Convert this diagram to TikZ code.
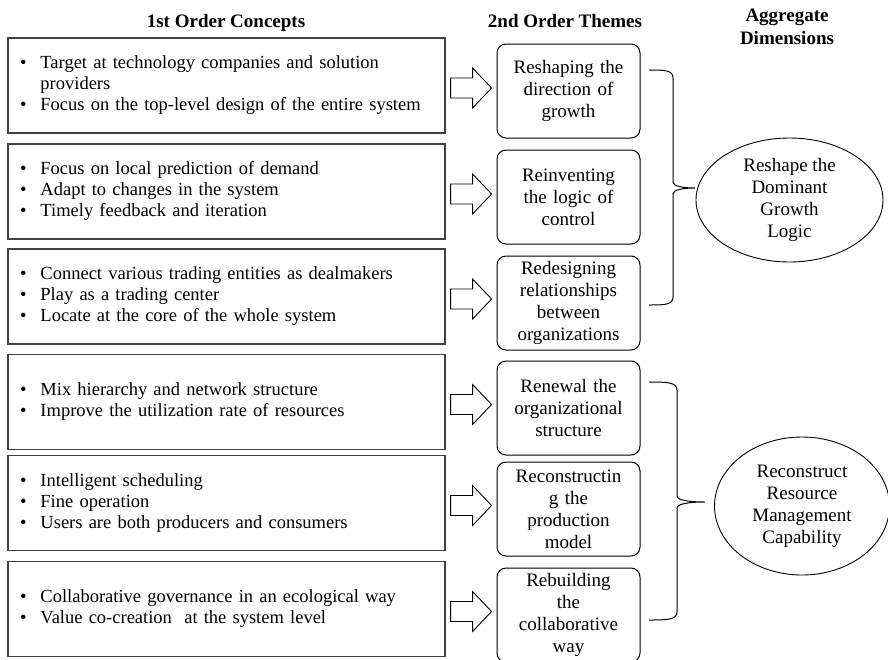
\documentclass[tikz,border=0pt]{standalone}
\usepackage{fontspec}
\setmainfont{Liberation Serif}
\usetikzlibrary{shapes.geometric,calc}

\tikzset{
  concept/.style={draw, line width=1.1pt, draw=black!75, minimum width=437pt, minimum height=95pt,
    text width=413pt, inner xsep=12pt, inner ysep=0pt, align=left, font=\fontsize{18.5}{21}\selectfont},
  theme/.style={draw, line width=1pt, rounded corners=9pt, minimum width=143pt, minimum height=94pt,
    text width=139pt, inner xsep=2pt, inner ysep=0pt, align=center, font=\fontsize{19}{22}\selectfont},
  dimension/.style={draw, line width=0.9pt, ellipse, inner sep=0pt, align=center, font=\fontsize{19}{22}\selectfont},
  heading/.style={inner sep=0pt, align=center, font=\fontsize{19}{23}\bfseries\selectfont},
  blockarrow/.style={draw, line width=0.9pt},
  bracket/.style={draw, line width=1pt}
}

\begin{document}
\begin{tikzpicture}[x=1pt, y=-1pt]
        \useasboundingbox (0,0) rectangle (888,659);

        % headings
        \node[heading, anchor=base] (h1) at (226,27) {1st Order Concepts};
        \node[heading, anchor=base] (h2) at (565,27) {2nd Order Themes};
        \node[heading, anchor=north] (h3) at (787,9) {Aggregate\\Dimensions};

        % 1st order concepts
        \node[concept] (c1) at (226.5,85.5) {\begin{tabular}{@{}l@{\hspace{14pt}}l@{}}
            \textbullet & Target at technology companies and solution\\
                        & providers\\
            \textbullet & Focus on the top-level design of the entire system\end{tabular}};
        \node[concept] (c2) at (226.5,191.5) {\begin{tabular}{@{}l@{\hspace{14pt}}l@{}}
            \textbullet & Focus on local prediction of demand\\
            \textbullet & Adapt to changes in the system\\
            \textbullet & Timely feedback and iteration\end{tabular}};
        \node[concept] (c3) at (226.5,296.5) {\begin{tabular}{@{}l@{\hspace{14pt}}l@{}}
            \textbullet & Connect various trading entities as dealmakers\\
            \textbullet & Play as a trading center\\
            \textbullet & Locate at the core of the whole system\end{tabular}};
        \node[concept] (c4) at (226.5,402) {\begin{tabular}{@{}l@{\hspace{14pt}}l@{}}
            \textbullet & Mix hierarchy and network structure\\
            \textbullet & Improve the utilization rate of resources\end{tabular}};
        \node[concept] (c5) at (226.5,503) {\begin{tabular}{@{}l@{\hspace{14pt}}l@{}}
            \textbullet & Intelligent scheduling\\
            \textbullet & Fine operation\\
            \textbullet & Users are both producers and consumers\end{tabular}};
        \node[concept] (c6) at (226.5,609) {\begin{tabular}{@{}l@{\hspace{14pt}}l@{}}
            \textbullet & Collaborative governance in an ecological way\\
            \textbullet & Value co-creation\ \ at the system level\end{tabular}};

        % 2nd order themes
        \node[theme] (t1) at (568.5,91) {Reshaping the\\direction of\\growth};
        \node[theme] (t2) at (568.5,197) {Reinventing\\the logic of\\control};
        \node[theme] (t3) at (568.5,303) {Redesigning\\relationships\\between\\organizations};
        \node[theme] (t4) at (568.5,408) {Renewal the\\organizational\\structure};
        \node[theme] (t5) at (568.5,509) {Reconstructin\\g the\\production\\model};
        \node[theme] (t6) at (568.5,615) {Rebuilding\\the\\collaborative\\way};

        % block arrows from concepts to themes
        \foreach \n in {1,...,6}
            \draw[blockarrow] ($(c\n.east)+(5,-7.5)$) -- ++(22,0) -- ++(0,-10) -- ++(19,20)
                -- ++(-19,20) -- ++(0,-10) -- ++(-22,0) -- cycle;

        % aggregate dimensions
        \node[dimension, minimum width=187pt, minimum height=124pt] (d1) at (789.5,200)
            {Reshape the\\Dominant\\Growth\\Logic};
        \node[dimension, minimum width=175pt, minimum height=138pt] (d2) at (802,506)
            {Reconstruct\\Resource\\Management\\Capability};

        % brackets
        \draw[bracket] (649,70) .. controls (664,70) and (673,70) .. (673,78) -- (673,182)
            .. controls (673,186) and (682,188) .. (695,188)
            .. controls (682,188) and (673,190) .. (673,194) -- (673,297)
            .. controls (673,305) and (664,305) .. (649,305);
        \draw[bracket] (649,382) .. controls (666,382) and (677,382) .. (677,390) -- (677,496)
            .. controls (677,500) and (688,502) .. (705,502)
            .. controls (688,502) and (677,504) .. (677,508) -- (677,612)
            .. controls (677,620) and (666,620) .. (649,620);
\end{tikzpicture}
\end{document}
